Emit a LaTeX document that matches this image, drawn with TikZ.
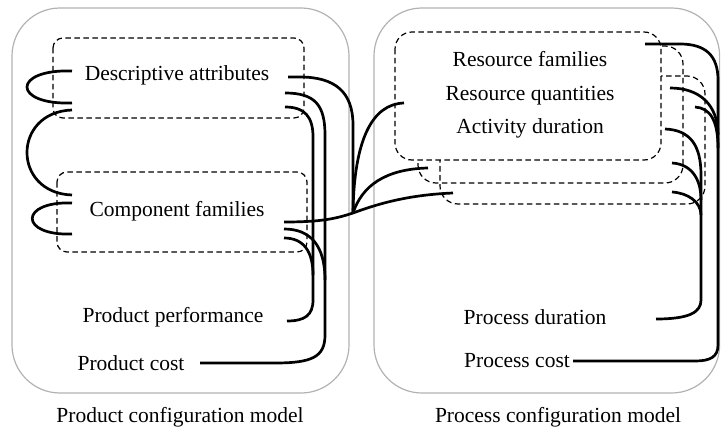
\documentclass[tikz,border=0pt]{standalone}
\usepackage{fontspec}
\setmainfont{Liberation Serif}
\definecolor{panelgray}{RGB}{178,178,178}
\begin{document}
\begin{tikzpicture}[x=1pt,y=-1pt,
  lbl/.style={font=\fontsize{21.5}{24}\selectfont, inner sep=0pt, anchor=base},
  panel/.style={draw=panelgray, line width=1.2pt, rounded corners=48pt},
  dbox/.style={draw=black, line width=1.2pt, dash pattern=on 5.5pt off 3.5pt},
  link/.style={draw=black, line width=2.7pt}]
\useasboundingbox (0,0) rectangle (721,428);
% panels
\draw[panel] (12,8) rectangle (349,393);
\draw[panel] (374,8) rectangle (719.6,393);
% dashed groups, left
\draw[dbox, rounded corners=10pt] (53,38) rectangle (304,118);
\draw[dbox, rounded corners=10pt] (57,172) rectangle (307,252);
% dashed stack, right
\draw[dbox, rounded corners=17pt] (395,32) rectangle (661,160);
\begin{scope}[even odd rule, rounded corners=17pt]
  \clip (-10,-10) rectangle (731,438) (395,32) rectangle (661,160);
  \draw[dbox, rounded corners=18pt] (418,46) rectangle (683,183);
  \draw[dbox, rounded corners=18pt] (440,76) rectangle (705,204);
\end{scope}
% texts
\node[lbl] (da) at (177,81) {Descriptive attributes};
\node[lbl] (cf) at (177,216) {Component families};
\node[lbl] (pp) at (173,322) {Product performance};
\node[lbl] (pc) at (131,370) {Product cost};
\node[lbl] (rf) at (530,67) {Resource families};
\node[lbl] (rq) at (530,101) {Resource quantities};
\node[lbl] (ad) at (530,133) {Activity duration};
\node[lbl] (pdur) at (535,324) {Process duration};
\node[lbl] (pcost) at (517,367) {Process cost};
\node[lbl] (capL) at (180,422) {Product configuration model};
\node[lbl] (capR) at (558,422) {Process configuration model};
% connector end points
\coordinate (l1a) at (72,71); \coordinate (l1b) at (72,103);
\coordinate (l2a) at (72,110); \coordinate (l2b) at (72,195);
\coordinate (l3a) at (72,203); \coordinate (l3b) at (72,234);
\coordinate (da1) at (288,77); \coordinate (da2) at (285,93); \coordinate (da3) at (285,107);
\coordinate (cf1) at (284,222); \coordinate (cf2) at (284,229); \coordinate (cf3) at (284,238);
\coordinate (ppE) at (287,321); \coordinate (pcE) at (200,363);
\coordinate (J) at (353,213);
\coordinate (rqE) at (404,103); \coordinate (rbE) at (428,168); \coordinate (rcE) at (453,193);
\coordinate (rf1) at (645,44); \coordinate (rb1) at (670,88); \coordinate (rc1) at (695,107);
\coordinate (ad1) at (665,129); \coordinate (rb2) at (672,163); \coordinate (rc2) at (672,192);
\coordinate (pdE) at (656,319); \coordinate (pcostE) at (573,361);
% left loops
\draw[link] (l1a) .. controls (12,69) and (12,105) .. (l1b);
\draw[link] (l2a) .. controls (12,112) and (12,193) .. (l2b);
\draw[link] (l3a) .. controls (19,201) and (19,236) .. (l3b);
% left panel to trunks
\draw[link] (da1) -- (300,77) .. controls (335,77) and (353,92) .. (353,125) -- (J);
\draw[link] (cf1) .. controls (320,222) and (335,219) .. (J) .. controls (375,205) and (405,195) .. (rcE);
\draw[link] (J) .. controls (354,140) and (372,104) .. (rqE);
\draw[link] (J) .. controls (362,186) and (385,169) .. (rbE);
\draw[link] (da2) .. controls (315,93) and (325,105) .. (325,135) -- (325,335) .. controls (325,357) and (312,363) .. (275,363) -- (pcE);
\draw[link] (da3) .. controls (305,107) and (313,117) .. (313,137) -- (313,300) .. controls (313,315) and (305,321) .. (ppE);
\draw[link] (cf2) .. controls (310,229) and (325,245) .. (325,280);
\draw[link] (cf3) .. controls (304,238) and (313,252) .. (313,275);
% right panel trunks
\draw[link] (rf1) -- (680,44) .. controls (705,44) and (718,55) .. (718,80) -- (718,345) .. controls (718,357) and (710,361) .. (695,361) -- (pcostE);
\draw[link] (rb1) .. controls (700,88) and (718,105) .. (718,135);
\draw[link] (rc1) .. controls (710,108) and (718,120) .. (718,148);
\draw[link] (ad1) .. controls (690,130) and (701,145) .. (701,175) -- (701,300) .. controls (701,312) and (690,319) .. (pdE);
\draw[link] (rb2) .. controls (690,164) and (701,177) .. (701,200);
\draw[link] (rc2) .. controls (688,193) and (701,202) .. (701,215);
\end{tikzpicture}
\end{document}
